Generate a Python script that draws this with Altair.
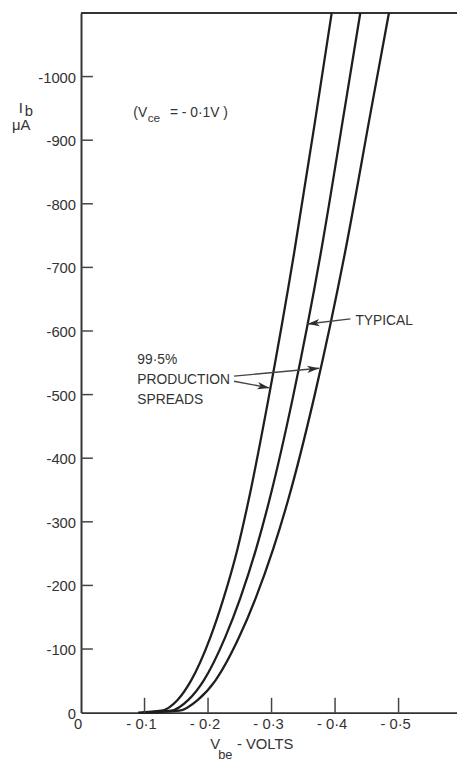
import altair as alt
import pandas as pd

# ---- data (Vbe in volts, Ib in microamps, both negative) ----
ib_levels = [0, -3, -20, -50, -118, -180, -257, -335, -498, -723, -948, -1100]
vbe_low = [-0.090, -0.1265, -0.152, -0.173, -0.2035, -0.2245, -0.2463, -0.2641, -0.296, -0.3356, -0.3713, -0.3947]
vbe_typ = [-0.097, -0.142, -0.169, -0.1928, -0.2268, -0.2508, -0.2756, -0.2968, -0.3341, -0.3776, -0.4149, -0.4397]
vbe_high = [-0.105, -0.155, -0.184, -0.2112, -0.2486, -0.275, -0.3025, -0.3263, -0.3676, -0.4156, -0.4568, -0.4848]

x_tick_values = [0, -0.1, -0.2, -0.3, -0.4, -0.5]
x_tick_labels = ["0", "- 0·1", "- 0·2", "- 0·3", "- 0·4", "- 0·5"]
y_tick_values = [0, -100, -200, -300, -400, -500, -600, -700, -800, -900, -1000]
y_tick_labels = ["0", "-100", "-200", "-300", "-400", "-500", "-600", "-700", "-800", "-900", "-1000"]

annot_text = ["(V", "= - 0·1V )", "TYPICAL", "99·5%", "PRODUCTION", "SPREADS"]
annot_v = [-0.0824, -0.140, -0.432, -0.0886, -0.0886, -0.0886]
annot_i = [-936, -936, -610, -548, -517, -486]
sub_text = ["ce"]
sub_v = [-0.1050]
sub_i = [-928]

arrow_tail_v = [-0.4242, -0.2408, -0.2408]
arrow_tail_i = [-619, -529, -521]
arrow_tip_v = [-0.3566, -0.3750, -0.2968]
arrow_tip_i = [-611, -541.5, -510.5]
arrow_angle = [173.4, 354.7, 11.0]

# ---- tables ----
rows = []
for name, vs in [("low", vbe_low), ("typ", vbe_typ), ("high", vbe_high)]:
    for k, (v, i) in enumerate(zip(vs, ib_levels)):
        rows.append({"curve": name, "k": k, "V": v, "I": i})
curves = pd.DataFrame(rows)
xt = pd.DataFrame({"v": x_tick_values, "t": x_tick_labels})
yt = pd.DataFrame({"v": y_tick_values, "t": y_tick_labels})
ann = pd.DataFrame({"t": annot_text, "V": annot_v, "I": annot_i})
sub = pd.DataFrame({"t": sub_text, "V": sub_v, "I": sub_i})
arrows = pd.DataFrame({"v1": arrow_tail_v, "i1": arrow_tail_i, "v2": arrow_tip_v,
                       "i2": arrow_tip_i, "ang": arrow_angle})

W, H = 381, 709
FONT = "Liberation Sans"
xs = alt.Scale(domain=[0, -0.592], nice=False, zero=False)
ys = alt.Scale(domain=[0, -1100], nice=False, zero=False)
xa = alt.Axis(labels=False, ticks=False, grid=False, title=None, domainColor="#333", domainWidth=2)
ya = alt.Axis(labels=False, ticks=False, grid=False, title=None, domainColor="#333", domainWidth=2)

lines = alt.Chart(curves).mark_line(color="#1e1e1e", strokeWidth=2.3, interpolate="monotone").encode(
    x=alt.X("V:Q", scale=xs, axis=xa),
    y=alt.Y("I:Q", scale=ys, axis=ya),
    detail="curve:N",
    order="k:Q",
)

xticks = alt.Chart(xt[xt.v != 0]).mark_rule(color="#444", strokeWidth=1.5).encode(
    x=alt.X("v:Q", scale=xs, axis=xa), y=alt.value(H), y2=alt.value(H - 15)
)
yticks = alt.Chart(yt[yt.v != 0]).mark_rule(color="#444", strokeWidth=1.5).encode(
    y=alt.Y("v:Q", scale=ys, axis=ya), x=alt.value(0), x2=alt.value(12)
)
xlabels = alt.Chart(xt).mark_text(font=FONT, fontSize=15, color="#333", align="center",
                                  baseline="alphabetic", dx=-3).encode(
    x=alt.X("v:Q", scale=xs, axis=xa), y=alt.value(H + 17), text="t:N"
)
ylabels = alt.Chart(yt).mark_text(font=FONT, fontSize=15, color="#333", align="right",
                                  baseline="middle", dy=1).encode(
    y=alt.Y("v:Q", scale=ys, axis=ya), x=alt.value(-5), text="t:N"
)

top = alt.Chart(pd.DataFrame({"a": [0]})).mark_rule(color="#333", strokeWidth=2).encode(
    x=alt.value(0), x2=alt.value(W + 10), y=alt.value(0)
)

annots = alt.Chart(ann).mark_text(font=FONT, fontSize=14, color="#333", align="left",
                                  baseline="alphabetic").encode(
    x=alt.X("V:Q", scale=xs, axis=xa), y=alt.Y("I:Q", scale=ys, axis=ya), text="t:N"
)
subs = alt.Chart(sub).mark_text(font=FONT, fontSize=12, color="#333", align="left",
                                baseline="alphabetic").encode(
    x=alt.X("V:Q", scale=xs, axis=xa), y=alt.Y("I:Q", scale=ys, axis=ya), text="t:N"
)

arrow_lines = alt.Chart(arrows).mark_rule(color="#444", strokeWidth=1.4).encode(
    x=alt.X("v1:Q", scale=xs, axis=xa), y=alt.Y("i1:Q", scale=ys, axis=ya),
    x2="v2:Q", y2="i2:Q",
)
arrow_heads = alt.Chart(arrows).mark_point(
    shape="M0,0L-2,-0.6L-1.5,0L-2,0.6Z", filled=True, size=150, color="#2e2e2e", opacity=1
).encode(
    x=alt.X("v2:Q", scale=xs, axis=xa), y=alt.Y("i2:Q", scale=ys, axis=ya),
    angle=alt.Angle("ang:Q", scale=None),
)

def ptext(t, x, y, size=15, **kw):
    return alt.Chart(pd.DataFrame({"t": [t]})).mark_text(
        font=FONT, fontSize=size, color="#333", align="left", baseline="alphabetic", **kw
    ).encode(x=alt.value(x), y=alt.value(y), text="t:N")

titles = [
    ptext("I", -63, 101, 15),
    ptext("b", -57, 104, 15),
    ptext("μA", -70, 119, 15),
    ptext("V", 131, H + 37, 15),
    ptext("be", 139, H + 47, 13),
    ptext("- VOLTS", 158, H + 37, 15),
]

chart = alt.layer(
    top, lines, xticks, yticks, xlabels, ylabels, annots, subs, arrow_lines, arrow_heads, *titles
).properties(
    width=W, height=H,
    autosize=alt.AutoSizeParams(type="none"),
    padding={"left": 74, "top": 0, "right": 0, "bottom": 46},
).configure_view(stroke=None)

chart.save("out.html", embed_options={"renderer": "svg", "actions": False})
